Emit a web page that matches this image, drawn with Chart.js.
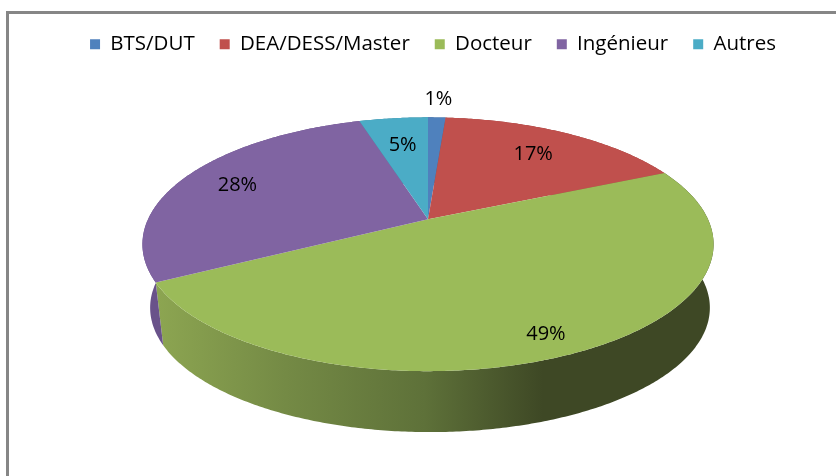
<!DOCTYPE html>
<html>
<head>
<meta charset="utf-8">
<script src="https://cdn.jsdelivr.net/npm/chart.js@4"></script>
<style>
    html, body { margin: 0; padding: 0; background: #fff; overflow: hidden; }
    #wrap { position: relative; width: 836px; height: 476px; }
    #frame { position: absolute; left: 6px; top: 11px; right: 0; bottom: 0; border-top: 3px solid #868686; border-left: 3px solid #868686; }
    canvas { position: absolute; left: 0; top: 0; }
</style>
</head>
<body>
<div id="wrap">
    <div id="frame"></div>
    <canvas id="pieChart" width="836" height="476"></canvas>
</div>
<script>
const categories = ['BTS/DUT', 'DEA/DESS/Master', 'Docteur', 'Ingénieur', 'Autres']
const shares = [1.2, 17.1, 48.9, 28.1, 4.7]
const sliceColors = ['#4f81bd', '#c0504d', '#9bbb59', '#8064a2', '#4bacc6']
const wallColors = ['#3f6797', '#9a403e', '#6b803f', '#69528a', '#3c899e']
// where each percentage sits along its slice (1 = rim), and a small turn in degrees
const labelReach = [1.22, 0.73, 0.87, 0.78, 0.7]
const labelTurn = [0, 0, 2, 0, 0]

const FONT = '"Open Sans"'
// the perspective of the tilted disc, relative to the library's radius
const TILT = 0.197
const STRETCH_X = 1.772
const STRETCH_Y = 0.772
const DEPTH = 64
const FLOOR_SCALE = 0.98
const FLOOR_SHIFT = 2
const LEGEND_SHIFT = 5

function project(arc, angle, reach, scale, drop, shift) {
    let u = Math.cos(angle) * reach
    let v = Math.sin(angle) * reach
    let w = 1 - TILT * v
    return {
        x: arc.x + shift + arc.outerRadius * STRETCH_X * scale * u / w,
        y: arc.y + drop + arc.outerRadius * STRETCH_Y * scale * v / w
    }
}

function traceRim(ctx, arc, from, to, scale, drop, shift) {
    let steps = Math.max(2, Math.ceil(Math.abs(to - from) / 0.01))
    for (let i = 0; i <= steps; i++) {
        let p = project(arc, from + (to - from) * i / steps, 1, scale, drop, shift)
        ctx.lineTo(p.x, p.y)
    }
}

function wallFill(ctx, arc, index) {
    if (index !== 2) {
        return wallColors[index]
    }
    let left = arc.x - arc.outerRadius * STRETCH_X
    let grad = ctx.createLinearGradient(left, 0, arc.x + 115, 0)
    grad.addColorStop(0, '#8ea752')
    grad.addColorStop(0.35, '#748a45')
    grad.addColorStop(0.7, '#5e7139')
    grad.addColorStop(1, '#3e4825')
    return grad
}

const tiltedPie = {
    id: 'tiltedPie',
    afterLayout(chart) {
        chart.legend.left += LEGEND_SHIFT
        chart.legend.right += LEGEND_SHIFT
    },
    beforeDatasetsDraw(chart) {
        let ctx = chart.ctx
        let arcs = chart.getDatasetMeta(0).data
        ctx.save()
        // walls first, the top face covers whatever is behind it
        arcs.forEach((arc, i) => {
            ctx.beginPath()
            traceRim(ctx, arc, arc.startAngle, arc.endAngle, 1, 0, 0)
            traceRim(ctx, arc, arc.endAngle, arc.startAngle, FLOOR_SCALE, DEPTH, FLOOR_SHIFT)
            ctx.closePath()
            ctx.fillStyle = wallFill(ctx, arc, i)
            ctx.fill()
        })
        arcs.forEach((arc, i) => {
            ctx.beginPath()
            ctx.moveTo(arc.x, arc.y)
            traceRim(ctx, arc, arc.startAngle, arc.endAngle, 1, 0, 0)
            ctx.closePath()
            ctx.fillStyle = sliceColors[i]
            ctx.fill()
        })
        ctx.font = '20px ' + FONT
        ctx.fillStyle = '#000'
        ctx.textAlign = 'center'
        ctx.textBaseline = 'middle'
        arcs.forEach((arc, i) => {
            let mid = (arc.startAngle + arc.endAngle) / 2 + labelTurn[i] * Math.PI / 180
            let p = project(arc, mid, labelReach[i], 1, 0, 0)
            ctx.fillText(Math.round(shares[i]) + '%', p.x, p.y)
        })
        ctx.restore()
        return false
    }
}

function create_pie_chart(_labels, _data, _targetContainer) {
    let ctx = document.getElementById(_targetContainer)
    new Chart(ctx, {
        type: 'pie',
        data: {
            labels: _labels,
            datasets: [
                {
                    data: _data,
                    backgroundColor: sliceColors,
                    borderWidth: 0,
                    radius: 158
                }
            ]
        },
        options: {
            responsive: false,
            animation: false,
            layout: {
                padding: { left: 20, top: 9, bottom: 102 }
            },
            plugins: {
                tooltip: { enabled: false },
                legend: {
                    display: true,
                    position: 'top',
                    labels: {
                        boxWidth: 10,
                        boxHeight: 10,
                        padding: 25,
                        color: '#000',
                        font: { family: FONT, size: 20.5 }
                    }
                }
            }
        },
        plugins: [tiltedPie]
    })
}

create_pie_chart(categories, shares, 'pieChart')
</script>
</body>
</html>
